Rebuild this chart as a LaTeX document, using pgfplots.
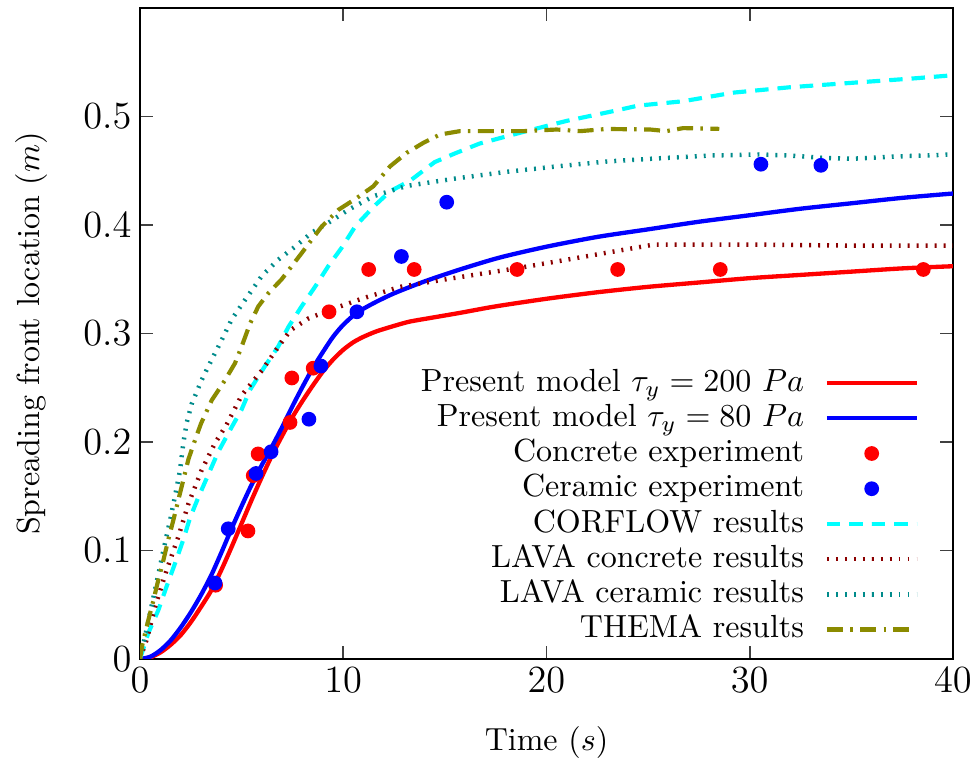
\documentclass[border=0pt]{standalone}
\usepackage{pgfplots}
\pgfplotsset{compat=1.18}
\definecolor{corflow}{RGB}{0,255,255}
\definecolor{lavacon}{RGB}{139,0,0}
\definecolor{lavacer}{RGB}{0,139,139}
\definecolor{thema}{RGB}{139,139,0}
\begin{document}
\begin{tikzpicture}
\begin{axis}[
  scale only axis, width=254pt, height=203.4pt,
  xmin=0, xmax=40, ymin=0, ymax=0.6,
  xtick={0,10,20,30,40},
  ytick={0,0.1,0.2,0.3,0.4,0.5},
  tick align=inside, major tick length=4pt,
  tick style={line width=0.5pt, color=black!75},
  axis line style={line width=0.6pt},
  ticklabel style={font=\large},
  yticklabel style={/pgf/number format/fixed, /pgf/number format/precision=1, inner sep=2.5pt},
  xticklabel style={inner sep=2.5pt},
  xlabel={Time ($s$)},
  ylabel={Spreading front location ($m$)},
  label style={font=\fontsize{10.4}{12}\selectfont},
  every axis x label/.style={at={(axis description cs:0.5,0)}, yshift=-26pt, anchor=center},
  every axis y label/.style={at={(axis description cs:0,0.5)}, xshift=-34pt, rotate=90, anchor=center},
  legend cell align=right,
  legend plot pos=right,
  legend image code/.code={\draw[mark repeat=2,mark phase=2,#1] plot coordinates {(0pt,0pt) (14pt,0pt) (28pt,0pt)};},
  legend style={at={(1,0)}, anchor=south east, xshift=-10.5pt, yshift=3.5pt,
    draw=none, fill=none, inner sep=0pt, row sep=0pt, column sep=6pt,
    nodes={inner sep=0.45pt, text height=7.6pt, text depth=2.5pt}},
]
% Present model 200 Pa
\addplot[red, line width=1.35pt, smooth, tension=0.45] coordinates {
(0,0) (0.5,0.0015) (1,0.006) (1.5,0.013) (2,0.022) (2.5,0.034) (3,0.048) (3.5,0.063)
(4,0.082) (4.5,0.103) (5,0.125) (5.5,0.147) (6,0.168) (6.5,0.188) (7,0.206) (7.5,0.223)
(8,0.238) (8.5,0.252) (9,0.265) (9.5,0.276) (10,0.285) (10.5,0.292) (11,0.297) (11.64,0.302)
(12.5,0.307) (13.28,0.311) (14.5,0.315) (15.74,0.319) (17.5,0.325) (20,0.332) (22.5,0.338)
(25,0.343) (27.5,0.347) (30,0.351) (32.5,0.354) (35,0.357) (37.5,0.36) (40,0.362)};
\addlegendentry{Present model $\tau_y = 200\ Pa$}
% Present model 80 Pa
\addplot[blue, line width=1.35pt, smooth, tension=0.45] coordinates {
(0,0) (0.5,0.002) (1,0.008) (1.5,0.017) (2,0.029) (2.5,0.043) (3,0.059) (3.5,0.077)
(4,0.098) (4.5,0.12) (5,0.141) (5.5,0.161) (6,0.179) (6.5,0.196) (7,0.214) (7.5,0.233)
(8,0.251) (8.5,0.268) (9,0.283) (9.5,0.297) (10,0.308) (10.66,0.319) (11.5,0.328) (12.5,0.337)
(14,0.348) (15.74,0.359) (17.7,0.37) (20,0.38) (22.5,0.389) (25,0.396) (27.5,0.403)
(30,0.409) (32.5,0.415) (35,0.42) (37.5,0.425) (40,0.429)};
\addlegendentry{Present model $\tau_y = 80\ Pa$}
% Concrete experiment
\addplot[only marks, mark=*, mark size=2.1pt, color=red] coordinates {
(3.72,0.068) (5.31,0.118) (5.57,0.169) (5.81,0.189) (7.38,0.218) (7.47,0.259) (8.52,0.268)
(9.3,0.32) (11.25,0.359) (13.49,0.359) (18.55,0.359) (23.5,0.359) (28.55,0.359) (38.54,0.359)};
\addlegendentry{Concrete experiment}
% Ceramic experiment
\addplot[only marks, mark=*, mark size=2.1pt, color=blue] coordinates {
(3.69,0.07) (4.34,0.12) (5.71,0.171) (6.45,0.191) (8.31,0.221) (8.9,0.27) (10.67,0.32)
(12.86,0.371) (15.09,0.421) (30.55,0.456) (33.5,0.455)};
\addlegendentry{Ceramic experiment}
% CORFLOW
\addplot[corflow, line width=1.3pt, dash pattern=on 4.2pt off 2.8pt] coordinates {
(0,0) (0.41,0.024) (0.9,0.045) (1.31,0.067) (1.72,0.088) (2.13,0.11) (2.46,0.13) (2.87,0.149)
(3.36,0.17) (3.85,0.191) (4.43,0.211) (5.0,0.23) (5.41,0.248) (6.15,0.27) (6.8,0.288)
(7.3,0.306) (7.95,0.325) (8.61,0.343) (9.26,0.362) (9.92,0.379) (10.6,0.399) (11.5,0.417)
(12.3,0.431) (13.3,0.441) (14.5,0.458) (15.5,0.466) (16.7,0.475) (18.9,0.486) (21,0.496)
(23.3,0.505) (24.5,0.51) (26.7,0.514) (29.2,0.522) (32,0.527) (35,0.531) (38,0.535) (40,0.538)};
\addlegendentry{CORFLOW results}
% LAVA concrete
\addplot[lavacon, line width=1.4pt, dash pattern=on 0.6pt off 2.2pt] coordinates {
(0,0) (0.33,0.018) (0.74,0.048) (1.31,0.082) (1.89,0.113) (2.38,0.143) (3.03,0.174)
(3.69,0.199) (4.26,0.216) (5.0,0.243) (6.0,0.266) (6.7,0.285) (7.4,0.303) (8.3,0.314)
(9.4,0.322) (10.9,0.332) (12.8,0.343) (15.4,0.351) (18.5,0.36) (21,0.368) (23.45,0.376)
(25.3,0.382) (30,0.382) (35,0.381) (40,0.381)};
\addlegendentry{LAVA concrete results}
% LAVA ceramic
\addplot[lavacer, line width=1.4pt, dash pattern=on 0.6pt off 2.2pt] coordinates {
(0,0) (0.25,0.021) (0.49,0.042) (0.74,0.064) (0.98,0.085) (1.23,0.107) (1.48,0.128)
(1.72,0.15) (1.97,0.174) (2.13,0.199) (2.3,0.218) (2.54,0.235) (3.03,0.257) (3.53,0.276)
(4.02,0.294) (4.51,0.313) (5.17,0.331) (5.99,0.353) (6.8,0.368) (7.63,0.38) (8.45,0.393)
(9.26,0.402) (10.25,0.414) (11.48,0.4265) (13.12,0.436) (15.58,0.443) (18.04,0.449)
(20.5,0.454) (22.96,0.4585) (25.1,0.461) (28,0.464) (30.5,0.465) (32,0.464) (33.5,0.462)
(35,0.461) (37,0.463) (40,0.465)};
\addlegendentry{LAVA ceramic results}
% THEMA
\addplot[thema, line width=1.3pt, dash pattern=on 5pt off 2.3pt on 0.8pt off 2.3pt] coordinates {
(0,0) (0.1,0.012) (0.41,0.036) (0.66,0.054) (0.9,0.073) (1.15,0.091) (1.39,0.11) (1.64,0.128)
(1.89,0.147) (2.13,0.165) (2.38,0.184) (2.71,0.202) (3.0,0.217) (3.53,0.2385) (4.18,0.257)
(4.67,0.2725) (5.0,0.288) (5.41,0.309) (5.82,0.325) (6.31,0.337) (6.97,0.35) (7.46,0.362)
(7.95,0.374) (8.45,0.3865) (8.94,0.3986) (9.76,0.414) (10.66,0.4248) (11.48,0.4357)
(12.3,0.454) (13.12,0.4665) (13.94,0.4757) (14.76,0.4834) (15.74,0.4865) (17.22,0.4865)
(18.86,0.4865) (20.5,0.488) (21.65,0.4865) (22.96,0.4885) (25.1,0.488) (25.9,0.4865)
(26.73,0.4893) (28.5,0.4886)};
\addlegendentry{THEMA results}
\end{axis}
\pgfresetboundingbox
\useasboundingbox ([xshift=-43.75pt, yshift=-33.1pt]current axis.south west) rectangle ([xshift=7.5pt, yshift=2.5pt]current axis.north east);
\end{tikzpicture}
\end{document}
